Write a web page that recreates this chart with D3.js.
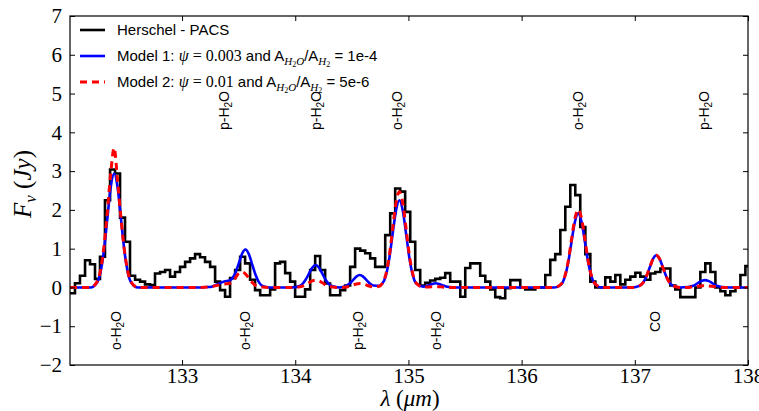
<!DOCTYPE html>
<html><head><meta charset="utf-8">
<script src="https://cdn.jsdelivr.net/npm/d3@7"></script>
<style>body{margin:0;background:#fff}</style>
</head><body><svg id="c" width="759" height="411"></svg>
<script>
// Observed Herschel-PACS spectrum: left edges of bins (micron) and flux (Jy)
const obsLambda = [132.010,132.054,132.098,132.143,132.187,132.231,132.275,132.319,132.364,132.408,
132.452,132.496,132.540,132.585,132.629,132.673,132.717,132.761,132.806,132.850,
132.894,132.938,132.982,133.027,133.071,133.115,133.159,133.203,133.248,133.292,
133.336,133.380,133.424,133.469,133.513,133.557,133.601,133.645,133.690,133.734,
133.778,133.822,133.866,133.911,133.955,133.999,134.043,134.087,134.132,134.176,
134.220,134.264,134.308,134.353,134.397,134.441,134.485,134.529,134.574,134.618,
134.662,134.706,134.750,134.795,134.839,134.883,134.927,134.971,135.016,135.060,
135.104,135.148,135.192,135.237,135.281,135.325,135.369,135.413,135.458,135.502,
135.546,135.590,135.634,135.679,135.723,135.767,135.811,135.855,135.900,135.944,
135.988,136.032,136.076,136.121,136.165,136.209,136.253,136.297,136.342,136.386,
136.430,136.474,136.518,136.563,136.607,136.651,136.695,136.739,136.784,136.828,
136.872,136.916,136.960,137.005,137.049,137.093,137.137,137.181,137.226,137.270,
137.314,137.358,137.402,137.447,137.491,137.535,137.579,137.623,137.668,137.712,
137.756,137.800,137.844,137.889,137.933,137.977];
const obsFlux = [-0.15,0.11,0.30,0.70,0.60,0.22,0.79,2.25,3.04,2.94,
1.80,1.18,0.30,0.20,0.15,0.08,0.06,0.36,0.40,0.45,
0.28,0.40,0.53,0.66,0.75,0.86,0.78,0.66,0.53,0.15,
-0.07,-0.24,0.24,0.45,0.79,0.62,0.20,-0.07,-0.20,-0.20,
-0.05,0.62,0.66,0.37,0.15,-0.24,-0.24,-0.05,0.45,0.81,
0.45,0.10,-0.20,-0.20,-0.07,0.05,0.53,1.00,0.95,0.88,
0.75,0.53,0.53,1.35,1.91,2.55,2.47,1.95,1.18,0.45,
0.05,0.12,0.18,0.22,0.25,0.37,0.15,0.15,-0.24,0.50,
0.62,0.62,0.30,0.15,-0.05,-0.25,-0.28,-0.02,0.19,0.19,
0.00,-0.05,-0.05,0.00,0.00,0.32,0.71,0.86,1.48,2.08,
2.64,2.38,1.56,0.86,0.15,0.00,0.00,0.26,0.15,0.32,
0.08,0.20,0.28,0.38,0.28,0.20,0.36,0.40,0.49,0.49,
0.05,-0.05,-0.25,-0.25,-0.25,0.00,0.40,0.62,0.40,0.00,
-0.10,-0.20,-0.10,0.00,0.32,0.55];
const obsEnd = 138.0;

// Model spectra sampled at wavelengths (micron)
const modelLambda = [132.01,
132.19,132.25,132.28,132.31,132.34,132.37,132.40,132.43,132.46,132.49,132.52,132.55,132.61,
133.17,133.23,133.26,133.29,133.32,133.35,133.38,133.41,133.44,133.47,133.50,133.53,133.56,133.59,133.62,133.65,133.68,133.71,133.77,
133.97,134.03,134.06,134.09,134.12,134.15,134.18,134.21,134.24,134.27,134.30,134.33,134.39,
134.42,134.45,134.48,134.51,134.54,134.57,134.60,134.63,134.66,134.69,
134.74,134.77,134.80,134.83,134.86,134.89,134.92,134.95,134.98,135.01,135.04,135.07,
135.13,135.18,135.21,135.24,135.27,135.30,135.36,135.42,
136.29,136.35,136.38,136.41,136.44,136.47,136.50,136.53,136.56,136.59,136.62,136.65,136.71,
136.98,137.04,137.07,137.10,137.13,137.16,137.19,137.22,137.25,137.28,137.31,137.34,137.40,
137.47,137.50,137.53,137.56,137.59,137.62,137.65,137.68,137.71,137.74,137.77,137.83,
138.00];
const model1Flux = [0,
0.00,0.13,0.40,0.96,1.78,2.59,2.94,2.59,1.78,0.96,0.40,0.13,0.00,
0.00,0.01,0.02,0.05,0.09,0.13,0.16,0.17,0.22,0.37,0.61,0.87,0.98,0.86,0.59,0.32,0.13,0.04,0.00,
0.00,0.03,0.08,0.19,0.35,0.51,0.58,0.51,0.35,0.19,0.08,0.03,0.00,
0.01,0.04,0.10,0.19,0.28,0.32,0.28,0.19,0.10,0.05,
0.04,0.10,0.30,0.73,1.37,1.98,2.25,1.98,1.37,0.73,0.30,0.10,
0.02,0.06,0.09,0.11,0.09,0.06,0.01,0.00,
0.00,0.08,0.26,0.62,1.16,1.68,1.91,1.68,1.16,0.62,0.26,0.08,0.00,
0.00,0.04,0.11,0.27,0.50,0.73,0.83,0.73,0.50,0.27,0.11,0.04,0.00,
0.01,0.03,0.06,0.12,0.17,0.19,0.17,0.12,0.06,0.03,0.01,0.00,
0.00];
const model2Flux = [0,
0.00,0.15,0.45,1.05,1.95,2.95,3.60,2.75,1.80,0.98,0.42,0.14,0.00,
0.00,0.01,0.02,0.04,0.06,0.08,0.09,0.10,0.14,0.24,0.36,0.40,0.35,0.24,0.13,0.05,0.02,0.01,0.00,
0.00,0.01,0.03,0.06,0.12,0.17,0.19,0.17,0.12,0.06,0.03,0.01,0.00,
0.00,0.01,0.03,0.06,0.09,0.10,0.09,0.06,0.03,0.01,
0.03,0.11,0.33,0.80,1.50,2.18,2.47,2.18,1.50,0.80,0.33,0.11,
0.01,0.01,0.02,0.02,0.02,0.01,0.00,0.00,
0.00,0.09,0.27,0.65,1.22,1.77,2.01,1.77,1.22,0.65,0.27,0.09,0.00,
0.00,0.04,0.11,0.27,0.50,0.73,0.83,0.73,0.50,0.27,0.11,0.04,0.00,
0.00,0.01,0.02,0.03,0.04,0.05,0.04,0.03,0.02,0.01,0.00,0.00,
0.00];

const xTicks = [133,134,135,136,137,138];
const yTicks = [-2,-1,0,1,2,3,4,5,6,7];

const lineNames  = ["o-H2O","p-H2O","o-H2O","p-H2O","p-H2O","o-H2O","o-H2O","o-H2O","CO","p-H2O"];
const lineLambda = [132.42,133.37,133.56,134.18,134.55,134.90,135.24,136.50,137.18,137.61];
const lineSide   = ["bottom","top","bottom","top","bottom","top","bottom","top","bottom","top"];

const legendNames = ["Herschel - PACS","Model 1","Model 2"];

// ---------------------------------------------------------------
const svg = d3.select("#c");
const L=70, R=748, T=16, B=365;
const x = d3.scaleLinear().domain([132.01,138]).range([L,R]);
const y = d3.scaleLinear().domain([-2,7]).range([B,T]);
const serif = "'Liberation Serif','DejaVu Serif',serif";
const sans = "'Liberation Sans',Arial,sans-serif";

svg.append("rect").attr("width",759).attr("height",411).attr("fill","#fff");

svg.append("defs").append("clipPath").attr("id","pc")
  .append("rect").attr("x",L).attr("y",T).attr("width",R-L).attr("height",B-T);

const plot = svg.append("g").attr("clip-path","url(#pc)");

// observed step spectrum
const obs = obsLambda.map((l,i)=>({l, f:obsFlux[i]}));
obs.push({l:obsEnd, f:obsFlux[obsFlux.length-1]});
plot.append("path").datum(obs)
  .attr("fill","none").attr("stroke","#000").attr("stroke-width",2.6)
  .attr("stroke-linejoin","miter")
  .attr("d", d3.line().curve(d3.curveStepAfter).x(d=>x(d.l)).y(d=>y(d.f)));

const m1 = modelLambda.map((l,i)=>({l,f:model1Flux[i]}));
const m2 = modelLambda.map((l,i)=>({l,f:model2Flux[i]}));
const ml = d3.line().curve(d3.curveMonotoneX).x(d=>x(d.l)).y(d=>y(d.f));
plot.append("path").datum(m1).attr("fill","none").attr("stroke","#0000ff")
  .attr("stroke-width",2.6).attr("d",ml);
plot.append("path").datum(m2).attr("fill","none").attr("stroke","#ff0000")
  .attr("stroke-width",3).attr("stroke-dasharray","7,5").attr("d",ml);

// axes (ticks inward on all four sides)
const tk = 5;
const ax = svg.append("g").attr("transform",`translate(0,${B})`)
  .call(d3.axisBottom(x).tickValues(xTicks).tickSizeInner(-tk).tickSizeOuter(0).tickPadding(3).tickFormat(d3.format("d")));
const ay = svg.append("g").attr("transform",`translate(${L},0)`)
  .call(d3.axisLeft(y).tickValues(yTicks).tickSizeInner(-tk).tickSizeOuter(0).tickPadding(8).tickFormat(d3.format("d")));
const at = svg.append("g").attr("transform",`translate(0,${T})`)
  .call(d3.axisTop(x).tickValues(xTicks).tickSizeInner(-tk).tickSizeOuter(0).tickFormat(""));
const ar = svg.append("g").attr("transform",`translate(${R},0)`)
  .call(d3.axisRight(y).tickValues(yTicks).tickSizeInner(-tk).tickSizeOuter(0).tickFormat(""));
[ax,ay,at,ar].forEach(g=>{
  g.select(".domain").remove();
  g.selectAll(".tick line").attr("stroke","#000").attr("stroke-width",1);
  g.selectAll(".tick text").attr("font-family",serif).attr("font-size",21).attr("fill","#000");
});
svg.append("rect").attr("x",L).attr("y",T).attr("width",R-L).attr("height",B-T)
  .attr("fill","none").attr("stroke","#000").attr("stroke-width",1.2);

// axis titles
const yt = svg.append("text").attr("transform","translate(31,184) rotate(-90)")
  .attr("text-anchor","middle").attr("font-family",serif).attr("font-size",25);
yt.append("tspan").attr("font-style","italic").text("F");
yt.append("tspan").attr("font-style","italic").attr("font-size",17).attr("dy",5).text("ν");
yt.append("tspan").attr("dy",-5).text(" (");
yt.append("tspan").attr("font-style","italic").text("Jy");
yt.append("tspan").text(")");

const xt = svg.append("text").attr("x",410).attr("y",406)
  .attr("text-anchor","middle").attr("font-family",serif).attr("font-size",23);
xt.append("tspan").attr("font-style","italic").text("λ");
xt.append("tspan").text(" (");
xt.append("tspan").attr("font-style","italic").text("μm");
xt.append("tspan").text(")");

// line identification labels
lineNames.forEach((n,i)=>{
  const t = svg.append("text")
    .attr("transform",`translate(${x(lineLambda[i])},${lineSide[i]==="top"?91:311}) rotate(-90)`)
    .attr("text-anchor","end").attr("dy","0.36em")
    .attr("font-family",sans).attr("font-size",14).attr("fill","#000");
  const m = n.match(/^(.*H)2(O)$/);
  if (m) {
    t.append("tspan").text(m[1]);
    t.append("tspan").attr("font-size",10).attr("dy",3).text("2");
    t.append("tspan").attr("dy",-3).text(m[2]);
  } else t.text(n);
});

// legend
const lg = svg.append("g");
const ly = [30,56,82];
lg.append("line").attr("x1",80).attr("x2",105).attr("y1",ly[0]).attr("y2",ly[0]).attr("stroke","#000").attr("stroke-width",2.6);
lg.append("line").attr("x1",80).attr("x2",105).attr("y1",ly[1]).attr("y2",ly[1]).attr("stroke","#0000ff").attr("stroke-width",2.6);
lg.append("line").attr("x1",80).attr("x2",105).attr("y1",ly[2]).attr("y2",ly[2]).attr("stroke","#ff0000").attr("stroke-width",3).attr("stroke-dasharray","7,5");

function legendText(yy, parts){
  const t = lg.append("text").attr("x",117).attr("y",yy+5).attr("font-family",sans).attr("font-size",15).attr("fill","#000");
  parts.forEach(p=>{
    const s = t.append("tspan").text(p.t);
    if (p.serif) s.attr("font-family",serif);
    if (p.it) s.attr("font-style","italic");
    if (p.fs) s.attr("font-size",p.fs);
    if (p.dy) s.attr("dy",p.dy);
  });
}
legendText(ly[0],[{t:legendNames[0]}]);
function modelParts(name, psi, ratio){
  return [{t:name+": "},{t:"ψ",serif:true,it:true,fs:16},{t:" = "+psi,serif:true,fs:16},
    {t:" and A"},{t:"H",serif:true,it:true,fs:11,dy:4},{t:"2",serif:true,fs:8,dy:2},{t:"O",serif:true,it:true,fs:11,dy:-2},
    {t:"/A",dy:-4},{t:"H",serif:true,it:true,fs:11,dy:4},{t:"2",serif:true,fs:8,dy:2},{t:" = "+ratio,fs:15,dy:-6}];
}
legendText(ly[1], modelParts(legendNames[1],"0.003","1e-4"));
legendText(ly[2], modelParts(legendNames[2],"0.01","5e-6"));
</script></body></html>
